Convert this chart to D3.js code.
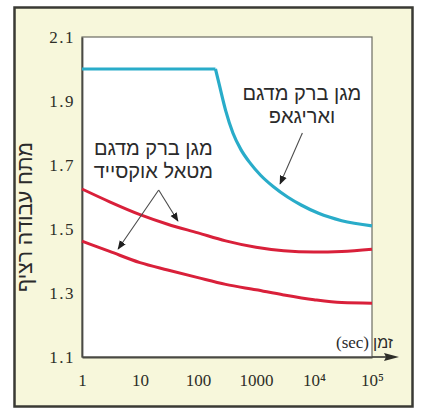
<!DOCTYPE html>
<html>
<head>
<meta charset="utf-8">
<script src="https://cdn.jsdelivr.net/npm/d3@7"></script>
<style>
  body { margin: 0; background: #fff; }
  svg { display: block; }
</style>
</head>
<body>
<svg id="chart"></svg>
<script>
// time in seconds, voltage in relative units
var timeTicks = [1, 10, 100, 1000, 1e4, 1e5];
var timeTickLabels = ['1', '10', '100', '1000', '10\u2074', '10\u2075'];
var voltTicks = [1.1, 1.3, 1.5, 1.7, 1.9, 2.1];

var blueFlatTime = [1, 200];
var blueFlatValue = [2.0, 2.0];
var blueDropTime = [200, 230, 300, 400, 550, 800, 1200, 2000, 3500, 6000, 12000, 30000, 100000];
var blueDropValue = [2.0, 1.955, 1.87, 1.80, 1.748, 1.705, 1.668, 1.632, 1.600, 1.575, 1.549, 1.526, 1.51];

var redTime = [1, 3, 10, 30, 100, 300, 1000, 3000, 10000, 30000, 100000];
var redUpperValue = [1.625, 1.585, 1.545, 1.515, 1.488, 1.463, 1.443, 1.432, 1.428, 1.43, 1.437];
var redLowerValue = [1.462, 1.43, 1.395, 1.372, 1.348, 1.327, 1.31, 1.294, 1.279, 1.27, 1.268];

var width = 421, height = 409,
    margin = { top: 37, left: 82, right: 49, bottom: 52 },
    innerWidth = width - margin.left - margin.right,
    innerHeight = height - margin.top - margin.bottom;

var svg = d3.select('#chart')
    .attr('width', width)
    .attr('height', height);

// outer frame
svg.append('rect')
    .attr('x', 14.5).attr('y', 7.5)
    .attr('width', 398).attr('height', 399)
    .attr('fill', '#f7f7db')
    .attr('stroke', '#3a3a34')
    .attr('stroke-width', 2.5);

var x = d3.scaleLog().domain([1, 1e5]).range([0, innerWidth]);
var y = d3.scaleLinear().domain([1.1, 2.1]).range([innerHeight, 0]);

var chart = svg.append('g')
    .attr('transform', 'translate(' + margin.left + ',' + margin.top + ')');

chart.append('rect')
    .attr('width', innerWidth)
    .attr('height', innerHeight)
    .attr('fill', '#fff')
    .attr('stroke', '#6b6b62')
    .attr('stroke-width', 1.2);

// axes
var xAxis = d3.axisBottom(x)
    .tickValues(timeTicks)
    .tickSize(0)
    .tickPadding(17)
    .tickFormat(function (d, i) { return timeTickLabels[i]; });

var yAxis = d3.axisLeft(y)
    .tickValues(voltTicks)
    .tickSize(0)
    .tickPadding(7)
    .tickFormat(d3.format('.1f'));

var gx = chart.append('g')
    .attr('transform', 'translate(0,' + innerHeight + ')')
    .call(xAxis);
var gy = chart.append('g').call(yAxis);

[gx, gy].forEach(function (g) {
    g.attr('font-size', 17).attr('font-family', '"Liberation Serif", serif');
    g.select('.domain').attr('stroke', '#4a4a44').attr('stroke-width', 1.8);
    g.selectAll('text')
        .attr('fill', '#2e2e28')
        .attr('font-size', 17)
        .attr('font-family', '"Liberation Serif", serif');
});
gy.selectAll('text').attr('letter-spacing', 1.5);

// x axis arrow beyond the plot
chart.append('line')
    .attr('x1', innerWidth).attr('x2', innerWidth + 16)
    .attr('y1', innerHeight).attr('y2', innerHeight)
    .attr('stroke', '#4a4a44').attr('stroke-width', 1.8);
chart.append('path')
    .attr('d', 'M' + (innerWidth + 27) + ',' + innerHeight +
        'L' + (innerWidth + 12) + ',' + (innerHeight - 4) +
        'L' + (innerWidth + 14) + ',' + innerHeight +
        'L' + (innerWidth + 12) + ',' + (innerHeight + 4) + 'Z')
    .attr('fill', '#2e2e28');

// curves
function toPoints(times, values) {
    return times.map(function (t, i) { return [t, values[i]]; });
}

var line = d3.line()
    .x(function (d) { return x(d[0]); })
    .y(function (d) { return y(d[1]); })
    .curve(d3.curveMonotoneX);

var blueColor = '#29acc9', redColor = '#d9203a';

[toPoints(blueFlatTime, blueFlatValue), toPoints(blueDropTime, blueDropValue)].forEach(function (pts) {
    chart.append('path')
        .attr('d', line(pts))
        .attr('fill', 'none')
        .attr('stroke', blueColor)
        .attr('stroke-width', 3.2);
});

[redUpperValue, redLowerValue].forEach(function (vals) {
    chart.append('path')
        .attr('d', line(toPoints(redTime, vals)))
        .attr('fill', 'none')
        .attr('stroke', redColor)
        .attr('stroke-width', 3);
});

// annotations
var defs = svg.append('defs');
defs.append('marker')
    .attr('id', 'head')
    .attr('viewBox', '0 0 10 10')
    .attr('refX', 9).attr('refY', 5)
    .attr('markerWidth', 9).attr('markerHeight', 9)
    .attr('markerUnits', 'userSpaceOnUse')
    .attr('orient', 'auto')
    .append('path')
    .attr('d', 'M0,1L10,5L0,9Z')
    .attr('fill', '#1f1f1f');

function arrow(from, to) {
    chart.append('line')
        .attr('x1', x(from[0])).attr('y1', y(from[1]))
        .attr('x2', x(to[0])).attr('y2', y(to[1]))
        .attr('stroke', '#4a4a4a')
        .attr('stroke-width', 1.1)
        .attr('marker-end', 'url(#head)');
}

arrow([6300, 1.80], [2600, 1.641]);
arrow([21, 1.622], [4.2, 1.4375]);
arrow([21, 1.622], [45, 1.525]);

function label(t, v, lines) {
    lines.forEach(function (txt, i) {
        chart.append('text')
            .attr('x', x(t))
            .attr('y', y(v) + i * 23)
            .attr('dy', '0.35em')
            .attr('text-anchor', 'middle')
            .attr('font-family', '"Liberation Sans", sans-serif')
            .attr('font-size', 20)
            .attr('fill', '#2b2b2b')
            .text(txt);
    });
}

label(6200, 1.925, ['מגן ברק מדגם', 'ואריגאפ']);
label(17, 1.753, ['מגן ברק מדגם', 'מטאל אוקסייד']);

// axis titles
svg.append('text')
    .attr('transform', 'translate(25,217) rotate(-90)')
    .attr('text-anchor', 'middle')
    .attr('dy', '0.35em')
    .attr('font-family', '"Liberation Sans", sans-serif')
    .attr('font-size', 21)
    .attr('fill', '#2b2b2b')
    .text('מתח עבודה רציף');

svg.append('text')
    .attr('x', margin.left + innerWidth - 3)
    .attr('y', margin.top + innerHeight - 9)
    .attr('text-anchor', 'end')
    .attr('font-family', '"Liberation Serif", serif')
    .attr('font-size', 17)
    .attr('fill', '#2b2b2b')
    .text('(sec)');

svg.append('text')
    .attr('x', margin.left + innerWidth + 1)
    .attr('y', margin.top + innerHeight - 9)
    .attr('text-anchor', 'start')
    .attr('font-family', '"Liberation Sans", sans-serif')
    .attr('font-size', 16)
    .attr('fill', '#2b2b2b')
    .text('זמן');
</script>
</body>
</html>
